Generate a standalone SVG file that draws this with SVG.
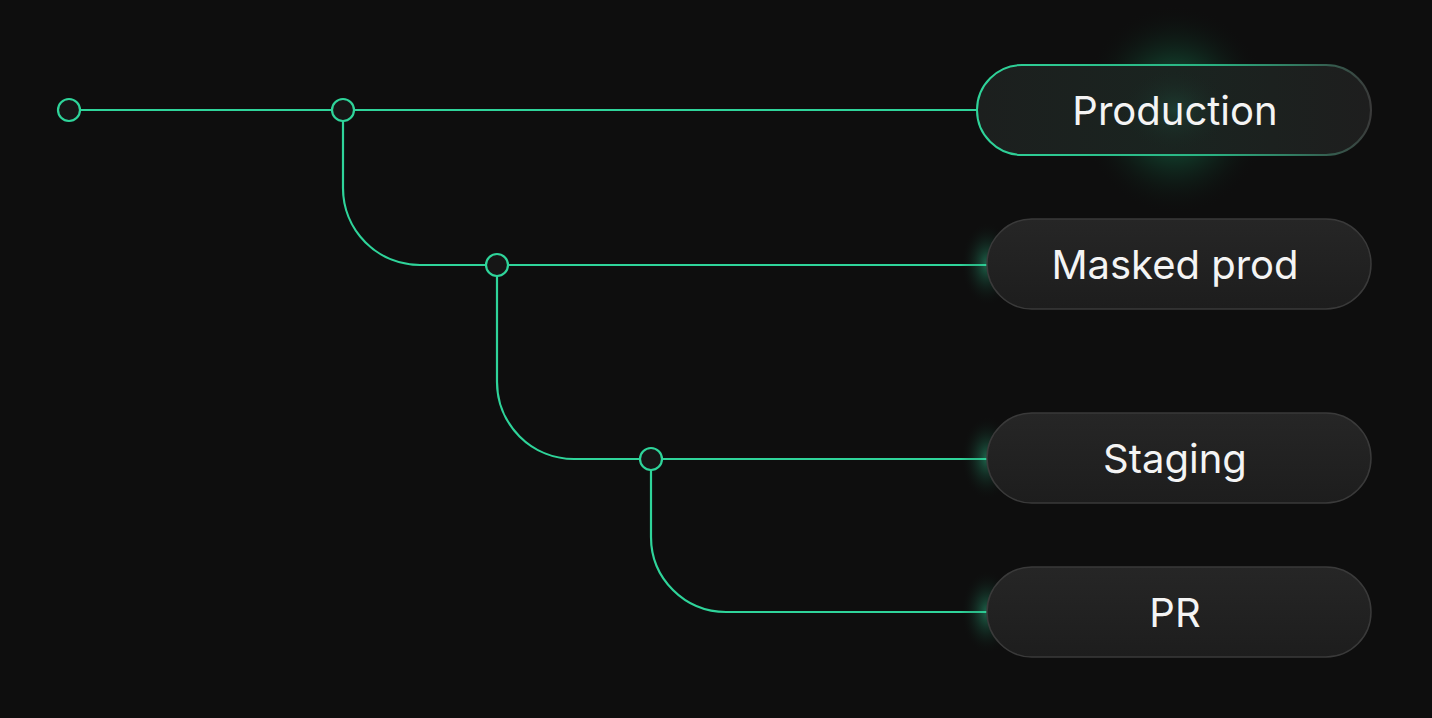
<svg xmlns="http://www.w3.org/2000/svg" width="1432" height="718" viewBox="0 0 1432 718">
<defs>
<style>
.wire{fill:none;stroke:#2fd49a;stroke-width:2.2}
.dot{fill:#161616;stroke:#2fd49a;stroke-width:2.2}
.pill{fill:url(#pf);stroke:#3a3a3a;stroke-width:1.5}
.lbl{font-family:Inter,"Noto Sans",sans-serif;font-size:40px;fill:#f4f4f4;text-anchor:middle;dominant-baseline:central}
</style>
<linearGradient id="pf" x1="0" y1="0" x2="0" y2="1">
<stop offset="0" stop-color="#262626"/><stop offset="1" stop-color="#1d1d1d"/>
</linearGradient>
<linearGradient id="pfg" x1="0" y1="0" x2="1" y2="0">
<stop offset="0" stop-color="#1c1f1e"/><stop offset="0.5" stop-color="#1a2420"/><stop offset="1" stop-color="#1e1e1e"/>
</linearGradient>
<linearGradient id="gs" x1="0" y1="0" x2="1" y2="0">
<stop offset="0" stop-color="#2fd49a"/><stop offset="0.6" stop-color="#2fd49a" stop-opacity="0.8"/><stop offset="1" stop-color="#3a3a3a"/>
</linearGradient>
<linearGradient id="ls" x1="0" y1="0" x2="1" y2="0">
<stop offset="0" stop-color="#2fd49a"/><stop offset="0.06" stop-color="#3a3a3a"/><stop offset="1" stop-color="#3a3a3a"/>
</linearGradient>
<radialGradient id="glowBig" cx="0.5" cy="0.5" r="0.5">
<stop offset="0" stop-color="#1fb87f" stop-opacity="0.7"/><stop offset="0.5" stop-color="#16784f" stop-opacity="0.3"/><stop offset="1" stop-color="#0e0e0e" stop-opacity="0"/>
</radialGradient>
<radialGradient id="glowSm" cx="0.5" cy="0.5" r="0.5">
<stop offset="0" stop-color="#2fd49a" stop-opacity="0.45"/><stop offset="1" stop-color="#0e0e0e" stop-opacity="0"/>
</radialGradient>
</defs>
<rect width="1432" height="718" fill="#0e0e0e"/>
<g id="connectors">
<path class="wire" d="M80 110 H977"/>
<path class="wire" d="M343 121 V188 A77 77 0 0 0 420 265 H987"/>
<path class="wire" d="M497 276 V382 A77 77 0 0 0 574 459 H987"/>
<path class="wire" d="M651 470 V537 A75 75 0 0 0 726 612 H987"/>
</g>
<g id="junctions">
<circle class="dot" cx="69" cy="110" r="11"/>
<circle class="dot" cx="343" cy="110" r="11"/>
<circle class="dot" cx="497" cy="265" r="11"/>
<circle class="dot" cx="651" cy="459" r="11"/>
</g>
<g id="node-production">
<ellipse cx="1175" cy="110" rx="95" ry="105" fill="url(#glowBig)"/>
<rect x="977" y="65" width="394" height="90" rx="45" fill="url(#pfg)" stroke="url(#gs)" stroke-width="2"/>
<ellipse cx="1175" cy="110" rx="60" ry="45" fill="url(#glowSm)" opacity="0.3"/>
<text class="lbl" x="1175" y="110">Production</text>
</g>
<g id="node-masked">
<ellipse cx="987" cy="264" rx="26" ry="42" fill="url(#glowSm)"/>
<rect class="pill" x="987" y="219" width="384" height="90" rx="45" stroke="url(#ls)"/>
<text class="lbl" x="1175" y="264">Masked prod</text>
</g>
<g id="node-staging">
<ellipse cx="987" cy="458" rx="26" ry="42" fill="url(#glowSm)"/>
<rect class="pill" x="987" y="413" width="384" height="90" rx="45" stroke="url(#ls)"/>
<text class="lbl" x="1175" y="458">Staging</text>
</g>
<g id="node-pr">
<ellipse cx="987" cy="612" rx="26" ry="42" fill="url(#glowSm)"/>
<rect class="pill" x="987" y="567" width="384" height="90" rx="45" stroke="url(#ls)"/>
<text class="lbl" x="1175" y="612">PR</text>
</g>
</svg>
